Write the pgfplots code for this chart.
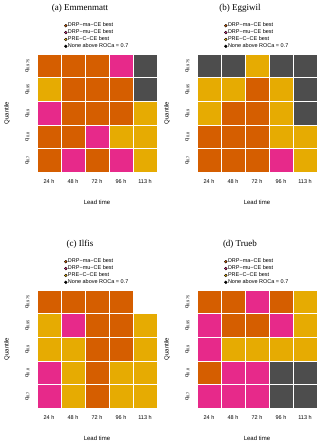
\documentclass[border=0pt]{standalone}
\usepackage{fontspec}
\setmainfont{Liberation Sans}
\newfontfamily\titlefont{Liberation Serif}
\usepackage{pgfplots}
\usepackage{pgfplotstable}
\pgfplotsset{compat=1.18}

\definecolor{drpma}{RGB}{213,94,0}
\definecolor{drpmu}{RGB}{231,41,138}
\definecolor{prec}{RGB}{230,171,2}
\definecolor{none}{RGB}{77,77,77}

% matrix plot puts row y=0 at the top: y=0 is q0.975, y=4 is q0.7
% c: 0 = DRP-ma-CE, 1 = DRP-mu-CE, 2 = PRE-C-CE, 3 = none above 0.7, 4 = no value
\pgfplotstableread{
x y c
0 0 0
1 0 0
2 0 0
3 0 1
4 0 3
0 1 2
1 1 0
2 1 0
3 1 0
4 1 3
0 2 1
1 2 0
2 2 0
3 2 0
4 2 2
0 3 0
1 3 0
2 3 1
3 3 2
4 3 2
0 4 0
1 4 1
2 4 0
3 4 1
4 4 2
}\emmenmatt

\pgfplotstableread{
x y c
0 0 3
1 0 3
2 0 2
3 0 3
4 0 3
0 1 2
1 1 2
2 1 0
3 1 2
4 1 3
0 2 2
1 2 0
2 2 0
3 2 2
4 2 3
0 3 0
1 3 0
2 3 0
3 3 2
4 3 2
0 4 0
1 4 0
2 4 0
3 4 1
4 4 2
}\eggiwil

\pgfplotstableread{
x y c
0 0 0
1 0 0
2 0 0
3 0 0
4 0 4
0 1 2
1 1 1
2 1 0
3 1 0
4 1 2
0 2 2
1 2 2
2 2 0
3 2 0
4 2 2
0 3 1
1 3 2
2 3 0
3 3 2
4 3 2
0 4 1
1 4 2
2 4 0
3 4 2
4 4 2
}\ilfis

\pgfplotstableread{
x y c
0 0 0
1 0 0
2 0 1
3 0 0
4 0 2
0 1 1
1 1 0
2 1 0
3 1 1
4 1 2
0 2 1
1 2 2
2 2 2
3 2 2
4 2 2
0 3 0
1 3 1
2 3 1
3 3 3
4 3 3
0 4 1
1 4 1
2 4 1
3 4 3
4 4 3
}\trueb

\pgfplotsset{
  heat/.style={
    width=120pt, height=118pt, scale only axis,
    anchor=north west,
    xmin=-0.5, xmax=4.5, ymin=-0.5, ymax=4.5,
    axis line style={draw=none},
    major tick length=0pt,
    xtick={0,...,4}, ytick={0,...,4},
    xticklabels={24 h,48 h,72 h,96 h,113 h},
    yticklabels={q\textsubscript{0.975},q\textsubscript{0.95},q\textsubscript{0.9},q\textsubscript{0.8},q\textsubscript{0.7}},
    tick label style={font=\fontsize{5.5}{6}\selectfont},
    xticklabel style={anchor=north},
    xticklabel shift=4pt,
    yticklabel style={rotate=90, anchor=south},
    yticklabel shift=4pt,
    xlabel={Lead time}, ylabel={Quantile},
    label style={font=\fontsize{6}{7}\selectfont},
    xlabel style={at={(axis description cs:0.5,-0.254)}, anchor=center},
    ylabel style={at={(axis description cs:-0.25,0.5)}, anchor=center},
    title style={at={(axis description cs:0.358,1.34)}, anchor=center, font=\titlefont\fontsize{9}{10}\selectfont},
    colormap={cats}{rgb255=(213,94,0) rgb255=(231,41,138) rgb255=(230,171,2) rgb255=(77,77,77) rgb255=(255,255,255)},
    colormap access=direct,
    legend style={draw=none, fill=none, at={(axis description cs:0.225,1.27)}, anchor=north west,
      font=\fontsize{5.5}{6}\selectfont, row sep=0.2pt, inner sep=0pt,
      nodes={inner sep=0.6pt}},
    legend cell align=left,
    legend image code/.code={\fill[##1] (1.5pt,0pt) circle (1.4pt);},
  },
  cell/.style={matrix plot, draw=white, line width=0.6pt, mesh/cols=5, point meta=explicit},
}

\begin{document}
\begin{tikzpicture}
\useasboundingbox (0,0) rectangle (320pt,-444pt);

\begin{axis}[heat, at={(37pt,-54pt)}, title={(a) Emmenmatt}]
\addlegendimage{fill=drpma}
\addlegendimage{fill=drpmu}
\addlegendimage{fill=prec}
\addlegendimage{fill=none}
\addplot[cell] table[x=x, y=y, meta=c] {\emmenmatt};
\legend{DRP−ma−CE best, DRP−mu−CE best, PRE−C−CE best, None above ROCa = 0.7}
\end{axis}

\begin{axis}[heat, at={(197pt,-54pt)}, title={(b) Eggiwil}]
\addlegendimage{fill=drpma}
\addlegendimage{fill=drpmu}
\addlegendimage{fill=prec}
\addlegendimage{fill=none}
\addplot[cell] table[x=x, y=y, meta=c] {\eggiwil};
\legend{DRP−ma−CE best, DRP−mu−CE best, PRE−C−CE best, None above ROCa = 0.7}
\end{axis}

\begin{axis}[heat, at={(37pt,-290pt)}, title={(c) Ilfis}]
\addlegendimage{fill=drpma}
\addlegendimage{fill=drpmu}
\addlegendimage{fill=prec}
\addlegendimage{fill=none}
\addplot[cell] table[x=x, y=y, meta=c] {\ilfis};
\legend{DRP−ma−CE best, DRP−mu−CE best, PRE−C−CE best, None above ROCa = 0.7}
\end{axis}

\begin{axis}[heat, at={(197pt,-290pt)}, title={(d) Trueb}]
\addlegendimage{fill=drpma}
\addlegendimage{fill=drpmu}
\addlegendimage{fill=prec}
\addlegendimage{fill=none}
\addplot[cell] table[x=x, y=y, meta=c] {\trueb};
\legend{DRP−ma−CE best, DRP−mu−CE best, PRE−C−CE best, None above ROCa = 0.7}
\end{axis}
\end{tikzpicture}
\end{document}
